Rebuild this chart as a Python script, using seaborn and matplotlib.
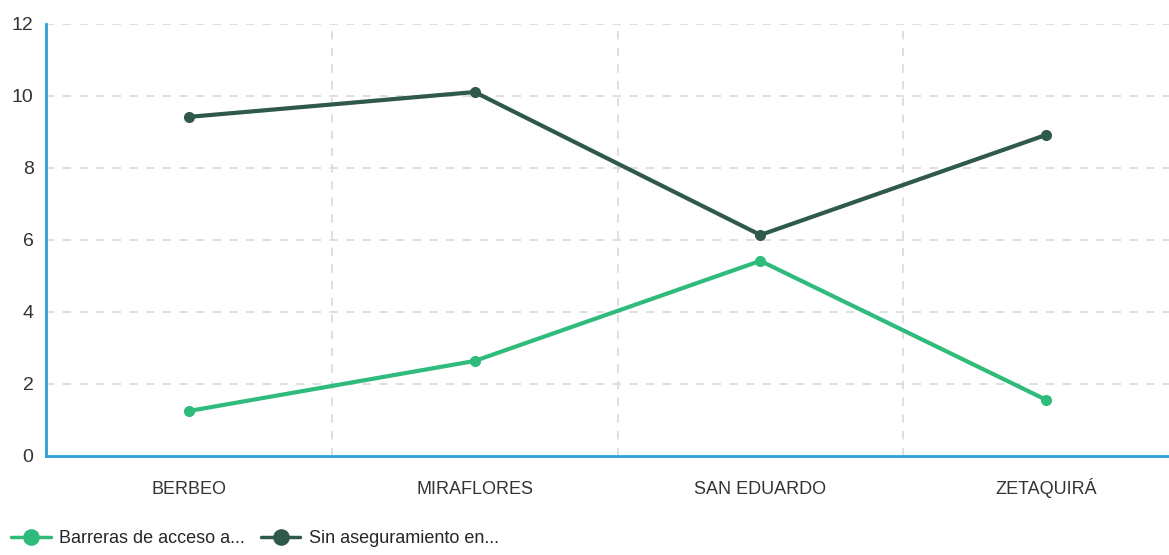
import matplotlib
matplotlib.use("Agg")
import matplotlib.pyplot as plt
import seaborn as sns
import pandas as pd
from matplotlib.lines import Line2D

categories = ["BERBEO", "MIRAFLORES", "SAN EDUARDO", "ZETAQUIRÁ"]
barreras = [1.25, 2.64, 5.42, 1.56]
sin_aseg = [9.42, 10.11, 6.14, 8.92]
series_names = ["Barreras de acceso a...", "Sin aseguramiento en..."]
colors = ["#2fbb7c", "#2f5a4a"]
yticks = [0, 2, 4, 6, 8, 10, 12]

sns.set_style("white")
plt.rcParams['font.family'] = ['Liberation Sans', 'DejaVu Sans']

rows = []
for name, vals in zip(series_names, [barreras, sin_aseg]):
    for i, (c, v) in enumerate(zip(categories, vals)):
        rows.append({"pos": i, "cat": c, "value": v, "serie": name})
df = pd.DataFrame(rows)

fig = plt.figure(figsize=(11.69, 5.55), dpi=100)
ax = fig.add_axes([46/1169, 99/555, (1169-46)/1169, (456-24)/555])

sns.lineplot(data=df, x="pos", y="value", hue="serie", palette=colors,
             marker="o", markersize=8, markeredgewidth=0, linewidth=3,
             ax=ax, legend=False)

ax.set_xlim(-0.5, 3.43)
ax.set_ylim(0, 12)
ax.set_xticks(range(len(categories)))
ax.set_xticklabels(categories, fontsize=13, color="#333333", va="baseline")
ax.set_yticks(yticks)
ax.set_yticklabels([str(t) for t in yticks], fontsize=14, color="#333333")
ax.tick_params(axis="x", length=0, pad=27)
ax.tick_params(axis="y", length=0, pad=9)
ax.set_xlabel("")
ax.set_ylabel("")

for t in yticks[1:]:
    ax.axhline(t, color="#d9d9d9", linestyle=(0, (5, 5)), linewidth=1.2, zorder=0)
for b in [0.5, 1.5, 2.5]:
    ax.axvline(b, color="#d9d9d9", linestyle=(0, (5, 5)), linewidth=1.2, zorder=0)

for s in ["top", "right"]:
    ax.spines[s].set_visible(False)
for s in ["left", "bottom"]:
    ax.spines[s].set_color("#2a9fd8")
    ax.spines[s].set_linewidth(2)

handles = [Line2D([0], [0], color=c, marker="o", markersize=12, linewidth=2.5,
                  markeredgewidth=0) for c in colors]
fig.legend(handles, series_names, loc="lower left", bbox_to_anchor=(0.0, -0.005),
           ncol=2, frameon=False, fontsize=13, handlelength=2.2,
           handletextpad=0.45, columnspacing=0.9, borderaxespad=0.2)

fig.savefig("out.png", dpi=100)
